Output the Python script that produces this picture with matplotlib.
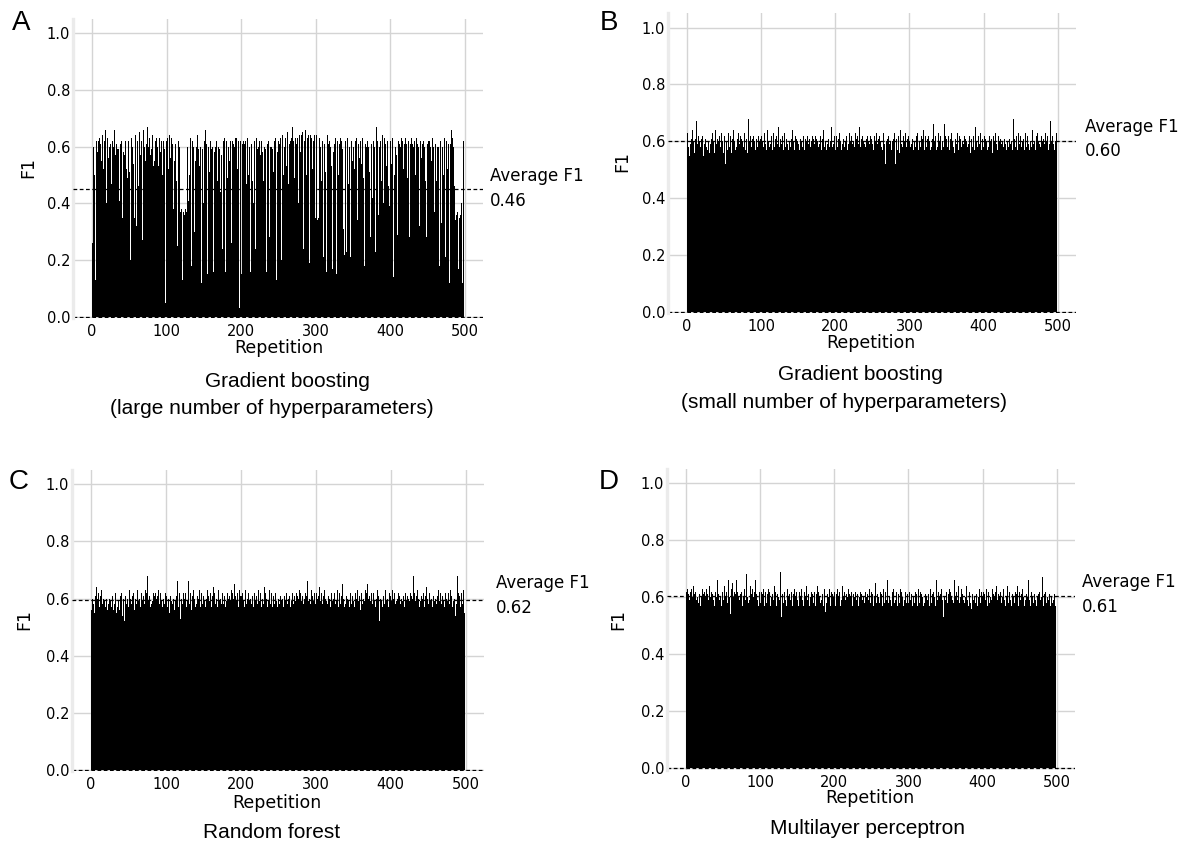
import numpy as np
import matplotlib
matplotlib.use("Agg")
import matplotlib.pyplot as plt

plt.rcParams["font.family"] = ["DejaVu Sans"]

# ---------------- data (F1 in hundredths, one value per repetition) ----------------
f1_gb_large = [
    30, 26, 60, 50, 59, 13, 62, 58, 36, 62,
    63, 61, 66, 55, 64, 52, 60, 62, 66, 40,
    65, 63, 56, 60, 48, 61, 47, 62, 26, 60,
    66, 54, 57, 61, 59, 62, 59, 41, 61, 23,
    62, 35, 58, 60, 57, 62, 52, 61, 49, 62,
    51, 62, 20, 63, 60, 61, 54, 35, 64, 12,
    32, 62, 46, 60, 65, 57, 62, 61, 27, 66,
    60, 62, 55, 61, 67, 28, 60, 63, 57, 62,
    59, 64, 53, 60, 55, 62, 43, 63, 60, 53,
    65, 63, 58, 62, 61, 50, 62, 59, 62, 5,
    62, 63, 62, 52, 64, 56, 62, 63, 61, 38,
    62, 55, 61, 48, 63, 25, 62, 60, 18, 37,
    38, 13, 36, 37, 36, 38, 17, 37, 60, 41,
    62, 50, 63, 18, 55, 62, 60, 30, 62, 55,
    60, 47, 64, 59, 53, 61, 60, 12, 59, 56,
    40, 62, 66, 58, 61, 15, 60, 59, 51, 62,
    59, 59, 60, 16, 58, 60, 60, 62, 48, 64,
    60, 59, 44, 62, 57, 24, 62, 60, 63, 16,
    62, 61, 49, 60, 55, 63, 62, 26, 62, 18,
    61, 60, 63, 50, 63, 52, 62, 62, 3, 62,
    63, 15, 61, 62, 53, 61, 62, 47, 60, 63,
    50, 60, 62, 16, 61, 48, 66, 40, 62, 24,
    61, 63, 59, 60, 49, 62, 57, 62, 14, 58,
    48, 60, 64, 59, 16, 61, 58, 62, 28, 60,
    63, 60, 59, 51, 64, 62, 63, 13, 60, 58,
    62, 55, 61, 63, 20, 62, 64, 50, 60, 62,
    63, 53, 65, 62, 47, 61, 62, 34, 63, 67,
    62, 64, 49, 63, 61, 66, 63, 40, 64, 62,
    58, 64, 65, 63, 24, 62, 66, 60, 50, 63,
    64, 63, 19, 64, 63, 64, 52, 62, 64, 63,
    35, 64, 34, 34, 35, 63, 14, 60, 48, 62,
    58, 21, 61, 51, 60, 16, 64, 61, 24, 62,
    60, 53, 63, 17, 58, 61, 49, 63, 15, 62,
    60, 50, 61, 63, 13, 62, 59, 31, 64, 22,
    62, 23, 54, 63, 47, 60, 61, 21, 62, 55,
    63, 60, 52, 62, 58, 63, 34, 61, 60, 56,
    62, 60, 54, 63, 49, 62, 18, 61, 60, 19,
    62, 60, 51, 63, 28, 61, 42, 19, 62, 60,
    23, 18, 67, 62, 36, 17, 60, 62, 48, 61,
    64, 40, 63, 12, 61, 53, 62, 60, 46, 39,
    62, 62, 54, 63, 14, 61, 50, 60, 57, 63,
    29, 62, 61, 16, 60, 63, 54, 62, 52, 61,
    19, 63, 61, 49, 63, 62, 28, 61, 15, 63,
    61, 60, 56, 62, 50, 63, 62, 61, 60, 32,
    63, 62, 56, 61, 19, 62, 60, 48, 63, 28,
    61, 62, 50, 62, 60, 55, 61, 63, 60, 37,
    62, 61, 48, 60, 61, 60, 18, 62, 60, 33,
    60, 61, 50, 63, 21, 60, 62, 52, 61, 60,
    12, 61, 66, 34, 63, 60, 46, 62, 34, 36,
    37, 40, 17, 35, 36, 62, 40, 12, 62, 61,
]

f1_gb_small = [
    60,63,58,55,62,59,61,57,64,60,56,62,61,67,59,63,62,60,58,57,61,62,55,60,59,
    61,58,62,57,60,56,62,59,61,63,57,60,56,58,64,59,61,55,60,62,58,57,63,60,56,
    59,62,52,60,61,57,63,58,60,62,56,61,59,64,60,57,62,58,61,60,63,59,62,57,61,
    60,58,62,63,57,61,59,56,68,60,57,62,58,61,59,62,60,57,63,61,58,62,59,60,61,
    57,62,60,58,61,63,59,57,62,64,60,58,61,59,62,57,60,63,58,61,56,62,59,65,60,
    58,61,66,59,62,57,60,63,58,61,62,59,57,60,62,58,61,64,59,60,57,62,58,61,60,
    59,62,57,61,60,63,58,62,59,57,61,60,56,62,59,61,63,58,60,62,57,61,59,62,58,
    61,60,58,63,59,62,57,60,61,64,58,62,60,57,63,59,61,58,62,60,65,58,61,59,62,
    57,60,62,58,61,59,63,60,57,62,59,61,58,64,60,62,57,61,59,63,58,60,62,59,61,
    60,58,63,57,61,62,59,60,65,58,61,57,62,60,59,63,58,61,62,56,60,59,62,58,61,
    59,61,57,62,60,58,63,59,61,56,62,60,58,61,57,63,59,62,52,60,61,58,62,59,60,
    62,57,60,61,58,63,52,59,61,57,62,60,56,64,59,61,58,62,60,57,63,58,61,59,62,
    60,58,62,59,61,57,66,60,58,62,59,63,57,61,60,58,62,59,61,64,57,60,62,58,61,
    59,62,60,57,63,58,61,66,59,60,62,57,61,58,63,60,59,62,57,61,60,58,66,59,62,
    61,58,60,62,57,61,59,63,60,58,62,56,61,59,60,63,57,62,59,61,58,60,64,59,62,
    57,61,60,58,63,59,62,56,60,61,58,62,59,57,65,60,61,58,62,59,60,63,57,61,60,
    58,62,59,61,60,57,63,58,62,60,59,61,56,62,58,60,63,59,61,57,62,60,58,61,59,
    60,63,58,61,59,62,57,60,64,58,61,59,62,60,57,68,59,61,58,62,60,57,63,59,61,
    62,58,60,59,61,57,63,60,58,62,59,61,57,60,62,58,64,59,61,60,57,62,58,63,60,
    59,61,58,62,60,57,61,59,63,58,60,62,57,61,59,67,60,58,62,59,61,57,60,63,56,
]

f1_rf = [
    63,56,60,58,62,55,61,64,59,60,62,57,67,61,63,58,62,60,59,57,61,60,56,58,62,
    60,59,57,64,61,56,58,60,62,55,57,63,59,56,61,57,62,54,60,63,52,61,58,62,60,
    57,63,62,60,58,61,59,62,56,60,61,58,63,59,61,60,57,62,55,59,61,58,60,63,62,
    68,58,59,61,57,60,58,59,62,58,61,62,60,59,61,63,58,60,62,59,57,61,60,58,62,
    59,61,57,60,62,55,61,59,63,58,60,56,62,59,61,66,60,57,62,53,61,60,58,62,59,
    60,62,57,61,59,66,58,60,62,56,61,59,63,60,57,62,58,61,60,59,63,57,62,60,58,
    61,59,62,57,60,63,58,61,59,62,60,57,61,64,59,62,58,60,61,57,63,59,62,60,58,
    62,60,58,61,57,63,59,62,60,58,61,59,63,57,62,60,65,58,61,59,62,60,57,63,61,
    58,61,62,59,60,57,63,58,61,60,62,59,65,60,58,61,63,57,62,59,60,61,58,63,60,
    59,62,57,61,60,58,64,59,62,60,57,61,59,63,58,60,62,57,61,60,58,62,59,61,57,
    60,63,58,61,59,62,60,57,61,63,59,62,58,51,60,61,57,63,59,62,58,60,61,59,62,
    57,61,60,63,58,62,59,61,66,58,60,62,57,61,66,59,62,60,58,63,57,61,59,62,60,
    58,62,60,57,61,64,59,60,62,58,61,57,63,60,59,62,58,61,60,64,57,62,59,61,60,
    62,58,61,59,63,57,60,62,58,61,59,65,60,57,62,58,61,60,63,59,57,62,60,58,61,
    59,61,57,62,60,58,63,59,61,60,56,62,58,61,60,59,63,57,62,65,60,58,61,59,62,
    60,58,62,59,61,57,60,63,58,61,52,60,62,59,57,61,60,58,63,59,61,60,57,62,58,
    61,59,63,57,60,62,58,61,59,60,62,57,61,58,60,63,59,61,57,60,62,59,61,58,60,
    59,62,58,61,60,68,57,62,59,61,58,63,60,57,62,59,61,60,58,62,57,61,59,64,60,
    58,61,62,59,60,63,57,61,59,62,60,58,61,57,63,59,62,60,58,61,59,63,57,62,60,
    61,59,62,58,60,63,61,57,62,59,60,54,61,58,68,62,59,61,57,62,60,58,63,55,56,
]

f1_mlp = [
    60,62,63,61,64,59,62,58,63,60,64,57,61,62,59,63,60,58,61,62,57,60,63,59,61,
    62,60,58,63,61,59,57,64,60,62,58,61,59,63,57,62,60,58,66,61,59,63,60,57,62,
    61,59,64,60,57,62,58,66,61,60,54,63,59,65,60,62,57,61,66,58,62,60,59,63,61,
    62,57,65,60,63,59,61,68,60,58,62,59,64,61,57,63,60,62,58,66,61,59,63,57,62,
    60,58,62,61,59,63,57,62,60,58,61,63,59,62,57,60,58,61,59,64,60,62,57,61,63,
    60,59,62,69,53,61,60,58,62,59,61,57,63,60,58,61,59,62,60,57,61,63,58,60,62,
    59,61,57,62,60,58,63,59,61,57,62,60,58,64,59,61,63,57,60,62,59,61,58,62,60,
    57,61,64,59,62,60,58,62,59,61,57,60,63,55,62,58,61,60,59,63,57,62,58,61,60,
    62,59,57,61,63,58,60,62,57,61,59,64,60,58,62,59,61,57,60,63,58,61,60,62,59,
    57,61,60,58,62,59,61,63,57,60,62,58,61,59,60,65,58,62,60,57,61,59,63,60,58,
    62,59,61,57,60,63,65,58,61,69,60,58,62,59,61,57,63,60,58,62,59,61,66,58,60,
    61,59,57,62,60,63,58,61,59,62,57,60,61,58,63,59,62,60,57,61,59,62,58,60,61,
    58,62,60,59,61,57,63,60,58,62,59,61,57,60,63,58,62,59,61,60,57,62,58,61,60,
    62,59,61,57,60,63,58,61,59,62,60,57,61,66,59,62,58,60,61,57,63,59,53,62,60,
    59,62,60,58,61,63,57,62,60,59,61,58,66,60,57,62,59,64,61,58,60,63,57,61,59,
    62,58,60,64,61,59,57,62,60,58,56,61,63,59,60,58,62,61,57,60,59,63,58,62,51,
    60,62,58,61,59,63,60,57,62,58,61,60,59,63,57,61,60,62,58,64,59,61,57,60,62,
    58,61,60,63,59,62,57,60,61,64,58,62,60,59,57,61,63,60,58,62,59,61,64,57,60,
    62,59,61,58,63,60,57,62,59,61,60,58,66,59,61,57,62,60,63,58,61,59,62,57,60,
    61,58,62,59,60,63,67,57,61,59,62,58,60,64,59,61,57,63,60,58,62,59,61,57,58,
]

panel_series = [f1_gb_large, f1_gb_small, f1_rf, f1_mlp]
panel_letters = ["A", "B", "C", "D"]
panel_titles = [
    ["Gradient boosting", "(large number of hyperparameters)"],
    ["Gradient boosting", "(small number of hyperparameters)"],
    ["Random forest"],
    ["Multilayer perceptron"],
]
avg_line_values = [0.45, 0.60, 0.595, 0.605]
avg_labels = ["0.46", "0.60", "0.62", "0.61"]
x_ticks = [0, 100, 200, 300, 400, 500]
y_ticks = [0.0, 0.2, 0.4, 0.6, 0.8, 1.0]

# ---------------- layout (pixel coordinates in a 1185x844 canvas) ----------------
W, H = 1185, 844
axes_px = [
    (73, 483, 18.8, 318.4),
    (668, 1076, 13.4, 313.4),
    (72, 484, 470.0, 771.4),
    (667, 1075, 469.0, 769.7),
]
letter_px = [(21, 23), (609, 23), (19, 482), (609, 482)]
ylabel_px = [(28, 168), (622, 162), (24, 620), (618, 620)]
xlabel_px = [(279, 348), (871, 343), (277, 803), (870, 798)]
avg_text_px = [(490, 176, 201), (1085, 127, 151), (496, 583, 608), (1082, 582, 607)]
title_px = [
    [(287, 382), (272, 409)],
    [(860, 375), (844, 403)],
    [(272, 833)],
    [(867, 828)],
]

SANS = ["Liberation Sans", "DejaVu Sans"]
GRID = "#d4d4d4"
SPINE = "#ebebeb"


def fx(x):
    return x / W


def fy(y):
    return 1 - y / H


fig = plt.figure(figsize=(W / 100, H / 100), dpi=100)

for i, vals in enumerate(panel_series):
    l, r, t, b = axes_px[i]
    ax = fig.add_axes([fx(l), fy(b), (r - l) / W, (b - t) / H])
    y = np.array(vals) / 100.0
    x = np.arange(len(y))
    ax.bar(x, y, width=1.0, color="black", linewidth=0, antialiased=False, zorder=2)
    ax.axhline(avg_line_values[i], color="black", lw=0.9, ls=(0, (3, 2)), zorder=3)
    ax.axhline(0.0, color="black", lw=0.9, ls=(0, (3, 2)), zorder=1)
    ax.set_xlim(-25.5, 524.5)
    ax.set_ylim(-0.005, 1.05)
    ax.set_xticks(x_ticks)
    ax.set_yticks(y_ticks)
    ax.set_yticklabels([f"{v:.1f}" for v in y_ticks])
    ax.grid(True, color=GRID, lw=1.0, zorder=0)
    ax.set_axisbelow(True)
    for s in ["top", "right", "bottom"]:
        ax.spines[s].set_visible(False)
    ax.spines["left"].set_color(SPINE)
    ax.spines["left"].set_linewidth(2.4)
    ax.tick_params(axis="both", length=0, labelsize=10.5, colors="black")
    ax.tick_params(axis="y", pad=2)
    ax.tick_params(axis="x", pad=4)

    lx, ly = letter_px[i]
    fig.text(fx(lx), fy(ly), panel_letters[i], fontsize=20, family=SANS,
             ha="center", va="center")
    yx, yy = ylabel_px[i]
    fig.text(fx(yx), fy(yy), "F1", fontsize=12.5, rotation=90,
             ha="center", va="center")
    xx, xy = xlabel_px[i]
    fig.text(fx(xx), fy(xy), "Repetition", fontsize=12.5,
             ha="center", va="center")
    ax_, ay1, ay2 = avg_text_px[i]
    fig.text(fx(ax_), fy(ay1), "Average F1", fontsize=12, ha="left", va="center")
    fig.text(fx(ax_), fy(ay2), avg_labels[i], fontsize=12, ha="left", va="center")
    for line, (tx, ty) in zip(panel_titles[i], title_px[i]):
        fig.text(fx(tx), fy(ty), line, fontsize=15, family=SANS,
                 ha="center", va="center")

fig.savefig("out.png", dpi=100, facecolor="white")
